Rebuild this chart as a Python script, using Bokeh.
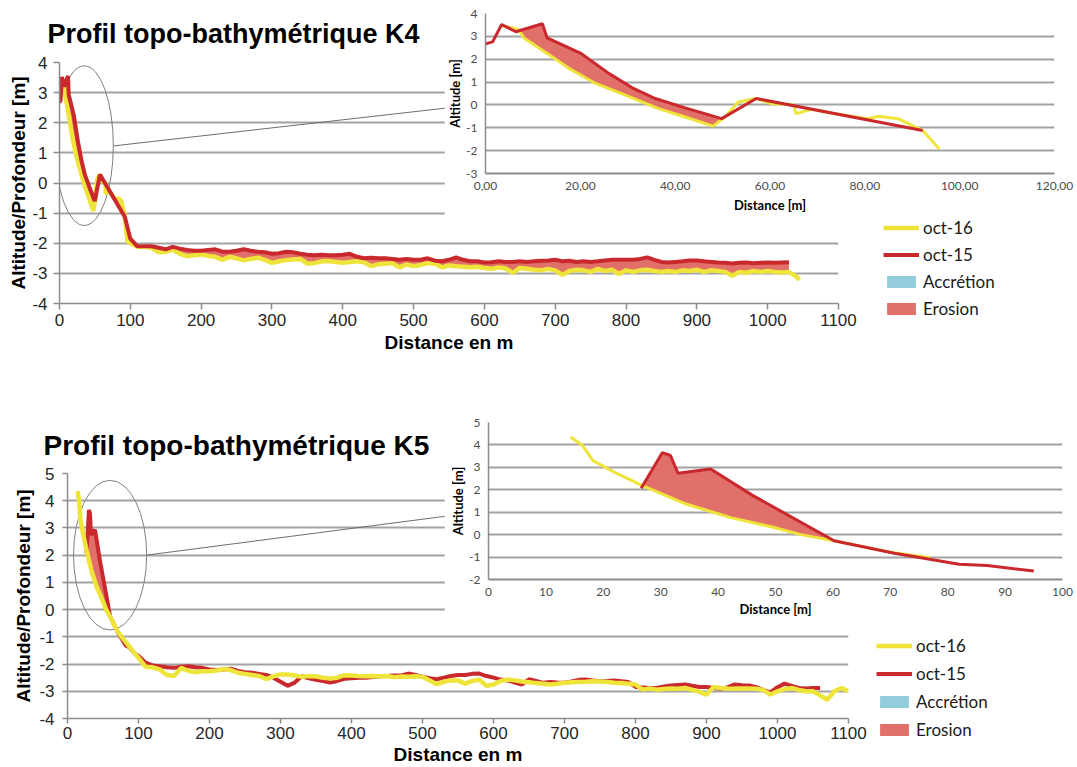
import numpy as np
from bokeh.plotting import figure
from bokeh.models import FixedTicker, Legend, LegendItem
from bokeh.embed import file_html
from bokeh.resources import INLINE

# ---------------------------------------------------------------- data
# Profile K4, beach / upper shoreface (distance [m], altitude [m])
k4_near_x15 = [0.0, 1.5, 3.4, 6.4, 12.0, 13.0, 20.0, 26.0, 31.2, 35.8, 42.1, 49.8, 57.1, 92.2]
k4_near_z15 = [2.67, 2.76, 3.52, 3.20, 3.55, 2.93, 2.27, 1.38, 0.72, 0.28, -0.13, -0.60, 0.28, -1.12]
k4_near_x16 = [3.5, 5.0, 7.0, 8.1, 13.4, 17.6, 23.2, 29.5, 36.5, 42.1, 48.0, 50.5, 53.3, 57.1,
               60.3, 65.0, 65.5, 68.8, 74.0, 80.7, 82.8, 87.0, 92.2, 95.7]
k4_near_z16 = [3.45, 3.40, 3.30, 2.93, 2.20, 1.60, 0.94, 0.43, -0.16, -0.53, -0.93, -0.53, 0.13, 0.28,
               0.06, 0.00, -0.38, -0.19, -0.40, -0.60, -0.50, -0.60, -1.12, -1.93]
k4_erosion_span = (6.4, 49.8)

# Profile K4, offshore part (10 m spacing)
k4_off_x = list(range(100, 1040, 10))
k4_off_z15 = [
    -1.85, -2.10, -2.10, -2.10, -2.15, -2.20, -2.12, -2.18, -2.22, -2.25,
    -2.25, -2.22, -2.20, -2.28, -2.28, -2.25, -2.20, -2.25, -2.28, -2.30,
    -2.35, -2.33, -2.28, -2.30, -2.35, -2.38, -2.40, -2.38, -2.40, -2.40,
    -2.38, -2.35, -2.45, -2.50, -2.48, -2.50, -2.50, -2.52, -2.55, -2.52,
    -2.55, -2.55, -2.50, -2.58, -2.60, -2.55, -2.47, -2.55, -2.60, -2.60,
    -2.64, -2.63, -2.60, -2.62, -2.62, -2.60, -2.62, -2.60, -2.58, -2.57,
    -2.55, -2.60, -2.58, -2.62, -2.60, -2.62, -2.60, -2.57, -2.55, -2.55,
    -2.55, -2.55, -2.52, -2.47, -2.55, -2.62, -2.64, -2.62, -2.60, -2.57,
    -2.57, -2.60, -2.62, -2.64, -2.65, -2.67, -2.65, -2.64, -2.66, -2.65,
    -2.64, -2.65, -2.64, -2.63]
k4_off_z16 = [
    -2.00, -2.12, -2.12, -2.15, -2.30, -2.28, -2.22, -2.35, -2.43, -2.40,
    -2.37, -2.42, -2.45, -2.55, -2.45, -2.50, -2.57, -2.52, -2.48, -2.55,
    -2.65, -2.60, -2.56, -2.54, -2.52, -2.68, -2.66, -2.60, -2.59, -2.62,
    -2.65, -2.62, -2.60, -2.63, -2.76, -2.70, -2.68, -2.66, -2.80, -2.70,
    -2.76, -2.72, -2.66, -2.68, -2.80, -2.74, -2.76, -2.78, -2.80, -2.78,
    -2.82, -2.85, -2.80, -2.84, -2.98, -2.82, -2.85, -2.88, -2.90, -2.85,
    -2.90, -3.05, -2.92, -2.88, -2.90, -2.95, -2.85, -2.92, -2.88, -3.02,
    -2.90, -2.95, -2.90, -2.88, -2.92, -2.95, -2.92, -2.95, -2.90, -2.92,
    -2.88, -2.95, -2.90, -2.92, -2.95, -3.08, -2.95, -2.98, -2.92, -2.95,
    -2.92, -2.95, -2.97, -2.95]
k4_tail_x16 = [1040, 1045]
k4_tail_z16 = [-3.10, -3.22]

# Profile K5, beach / upper shoreface
k5_near_x15 = [26.6, 30.3, 31.7, 33.0, 38.7, 46.0, 60.2, 70.7, 82.0, 86.9, 95.0]
k5_near_z15 = [2.07, 3.66, 3.53, 2.74, 2.93, 1.75, -0.27, -0.83, -1.32, -1.38, -1.62]
k5_near_x16 = [14.3, 16.3, 18.2, 21.8, 26.8, 34.0, 38.7, 42.2, 49.1, 54.4, 60.2, 70.0, 77.0]
k5_near_z16 = [4.35, 4.00, 3.30, 2.80, 2.19, 1.40, 1.03, 0.76, 0.36, 0.00, -0.27, -0.78, -1.03]
k5_erosion_span = (26.6, 60.2)

# Profile K5, offshore part (10 m spacing)
k5_off_x15 = list(range(100, 1070, 10))
k5_off_z15 = [
    -1.70, -1.95, -2.05, -2.08, -2.12, -2.14, -2.10, -2.08, -2.12, -2.14,
    -2.20, -2.22, -2.20, -2.17, -2.25, -2.30, -2.32, -2.36, -2.40, -2.50,
    -2.65, -2.80, -2.68, -2.45, -2.52, -2.58, -2.62, -2.68, -2.62, -2.54,
    -2.52, -2.50, -2.50, -2.48, -2.45, -2.44, -2.42, -2.42, -2.35, -2.40,
    -2.46, -2.52, -2.56, -2.50, -2.44, -2.40, -2.40, -2.36, -2.35, -2.44,
    -2.50, -2.57, -2.60, -2.68, -2.75, -2.56, -2.62, -2.69, -2.66, -2.68,
    -2.69, -2.64, -2.58, -2.57, -2.60, -2.63, -2.62, -2.60, -2.63, -2.66,
    -2.84, -2.86, -2.88, -2.88, -2.82, -2.79, -2.77, -2.75, -2.80, -2.84,
    -2.84, -2.88, -2.91, -2.85, -2.75, -2.78, -2.79, -2.85, -2.95, -3.04,
    -2.85, -2.72, -2.80, -2.88, -2.90, -2.88, -2.88]
k5_off_x16 = list(range(110, 1110, 10))
k5_off_z16 = [
    -2.10, -2.12, -2.20, -2.40, -2.44, -2.14, -2.25, -2.30, -2.26, -2.26,
    -2.24, -2.18, -2.22, -2.32, -2.36, -2.40, -2.44, -2.55, -2.45, -2.38,
    -2.38, -2.42, -2.47, -2.44, -2.46, -2.50, -2.53, -2.50, -2.41, -2.42,
    -2.44, -2.45, -2.44, -2.45, -2.44, -2.48, -2.46, -2.47, -2.45, -2.47,
    -2.60, -2.74, -2.65, -2.60, -2.60, -2.72, -2.62, -2.57, -2.80, -2.75,
    -2.62, -2.57, -2.60, -2.64, -2.67, -2.70, -2.72, -2.75, -2.72, -2.69,
    -2.67, -2.66, -2.65, -2.63, -2.64, -2.66, -2.69, -2.70, -2.72, -2.75,
    -2.94, -2.90, -2.94, -2.92, -2.90, -2.91, -2.88, -2.95, -3.02, -3.12,
    -2.84, -2.88, -2.90, -2.91, -2.90, -2.90, -2.91, -2.95, -3.12, -3.00,
    -2.92, -2.88, -2.95, -3.00, -3.00, -3.15, -3.31, -3.00, -2.88, -3.00]

# Axis ticks and labels
main_x_ticks = [0, 100, 200, 300, 400, 500, 600, 700, 800, 900, 1000, 1100]
k4_y_ticks = [-4, -3, -2, -1, 0, 1, 2, 3, 4]
k5_y_ticks = [-4, -3, -2, -1, 0, 1, 2, 3, 4, 5]
k4_zoom_x_ticks = [0, 20, 40, 60, 80, 100, 120]
k4_zoom_x_labels = ["0,00", "20,00", "40,00", "60,00", "80,00", "100,00", "120,00"]
k4_zoom_y_ticks = [-3, -2, -1, 0, 1, 2, 3, 4]
k5_zoom_x_ticks = [0, 10, 20, 30, 40, 50, 60, 70, 80, 90, 100]
k5_zoom_y_ticks = [-2, -1, 0, 1, 2, 3, 4, 5]

series_labels = ["oct-16", "oct-15", "Accrétion", "Erosion"]
titles = ["Profil topo-bathymétrique K4", "Profil topo-bathymétrique K5"]

# Zoom windows marked on the overview profiles (ellipse + leader line)
k4_zoom_mark = dict(cx=35, cy=1.24, w=82, h=5.3, lx=[76, 700], ly=[1.23, 2.90])
k5_zoom_mark = dict(cx=60, cy=2.0, w=103, h=5.5, lx=[111, 700], ly=[2.0, 4.0])

# ---------------------------------------------------------------- style
YELLOW = "#EEE43A"
RED = "#C9282D"
EROSION = "#E2706A"
ACCRETION = "#93CDDD"
GRID = "#A3A3A3"
AXIS = "#8C8C8C"
MAIN_FONT = "Liberation Sans"
ZOOM_FONT = "Lato"


def place(fig, left, top):
    fig.styles = {"position": "absolute", "left": f"{left}px", "top": f"{top}px",
                  "width": f"{fig.width}px", "height": f"{fig.height}px"}


def erosion_polygon(x15, z15, x16, z16, span):
    lo, hi = span
    upper = [(x, z) for x, z in zip(x15, z15) if lo <= x <= hi]
    lower = [(x, z) for x, z in zip(x16, z16) if lo <= x <= hi][::-1]
    pts = upper + lower
    return [q[0] for q in pts], [q[1] for q in pts]


def common_grid(xa, za, xb, zb):
    a = dict(zip(xa, za))
    b = dict(zip(xb, zb))
    xs = sorted(set(a) & set(b))
    return xs, np.array([a[x] for x in xs]), np.array([b[x] for x in xs])


def style_common(p, x_ticks, y_ticks, font, size, color):
    p.xaxis.ticker = FixedTicker(ticks=x_ticks)
    p.yaxis.ticker = FixedTicker(ticks=y_ticks)
    p.ygrid.ticker = FixedTicker(ticks=y_ticks)
    p.xgrid.visible = False
    p.ygrid.grid_line_color = GRID
    p.ygrid.grid_line_width = 2
    p.yaxis.major_label_overrides = {t: str(t) for t in y_ticks}
    for ax in (p.xaxis[0], p.yaxis[0]):
        ax.axis_line_color = AXIS
        ax.axis_line_width = 1.5
        ax.major_tick_line_color = AXIS
        ax.major_tick_line_width = 1.5
        ax.major_tick_in = 0
        ax.minor_tick_line_color = None
        ax.major_label_text_font = font
        ax.major_label_text_font_size = size
        ax.major_label_text_color = color
        ax.axis_label_text_font = font
        ax.axis_label_text_font_style = "bold"
        ax.axis_label_text_color = "#000000"
    p.outline_line_color = None
    p.background_fill_color = "white"
    p.border_fill_color = "white"


def overview(title, title_size, title_offset, title_standoff, width, height, borders,
             y_ticks, poly, mark, tick_out, x_standoff, x_label_standoff,
             y_standoff, y_label_standoff):
    p = figure(width=width, height=height, x_range=(0, 1100), y_range=(y_ticks[0], y_ticks[-1]),
               output_backend="svg", toolbar_location=None, title=title,
               min_border_left=borders[0], min_border_right=borders[1],
               min_border_top=borders[2], min_border_bottom=borders[3])
    style_common(p, main_x_ticks, y_ticks, MAIN_FONT, "17px", "#262626")
    p.xaxis.major_label_overrides = {t: str(t) for t in main_x_ticks}
    p.xaxis.axis_label = "Distance en m"
    p.yaxis.axis_label = "Altitude/Profondeur [m]"
    for ax in (p.xaxis[0], p.yaxis[0]):
        ax.axis_label_text_font_size = "19px"
        ax.major_tick_out = tick_out
    p.xaxis.major_label_standoff = x_standoff
    p.xaxis.axis_label_standoff = x_label_standoff
    p.yaxis.major_label_standoff = y_standoff
    p.yaxis.axis_label_standoff = y_label_standoff
    p.title.text_font = MAIN_FONT
    p.title.text_font_size = title_size
    p.title.text_font_style = "bold"
    p.title.text_color = "#000000"
    p.title.align = "left"
    p.title.offset = title_offset
    p.title.standoff = title_standoff

    p.patch(poly[0], poly[1], fill_color=EROSION, line_color=None)
    p.ellipse(x=[mark["cx"]], y=[mark["cy"]], width=[mark["w"]], height=[mark["h"]],
              fill_alpha=0, line_color="#808080", line_width=1)
    p.line(mark["lx"], mark["ly"], line_color="#6E6E6E", line_width=1)
    return p


def key_panel(x15, z15, x16, z16, gx, g15, g16, spacing):
    # Stand-alone key placed to the right of an overview profile. Its renderers
    # carry the profile data but stay hidden; only the legend is shown.
    p = figure(width=190, height=110, x_range=(0, 1), y_range=(0, 1),
               output_backend="svg", toolbar_location=None, min_border=0,
               x_axis_location=None, y_axis_location=None)
    p.grid.visible = False
    p.outline_line_color = None
    p.background_fill_alpha = 0
    p.border_fill_alpha = 0
    r16 = p.line(x16, z16, line_color=YELLOW, line_width=4.5, visible=False)
    r15 = p.line(x15, z15, line_color=RED, line_width=4, visible=False)
    r_acc = p.varea(x=gx, y1=g15, y2=np.maximum(g15, g16), fill_color=ACCRETION, visible=False)
    r_ero = p.varea(x=gx, y1=g16, y2=np.maximum(g15, g16), fill_color=EROSION, visible=False)
    items = [LegendItem(label=lab, renderers=[r])
             for lab, r in zip(series_labels, [r16, r15, r_acc, r_ero])]
    leg = Legend(items=items, location="top_left", orientation="vertical", padding=0, margin=0,
                 spacing=spacing, glyph_width=36, glyph_height=15, label_standoff=4,
                 label_text_font=ZOOM_FONT, label_text_font_size="17px",
                 label_text_color="#1A1A1A", border_line_alpha=0, background_fill_alpha=0,
                 inactive_fill_alpha=0)
    p.add_layout(leg)
    return p


def zoom_panel(width, height, borders, x_end, y_ticks, x_ticks, x_labels,
               x15, z15, x16, z16, poly, x_label_standoff):
    p = figure(width=width, height=height, x_range=(0, x_end), y_range=(y_ticks[0], y_ticks[-1]),
               output_backend="svg", toolbar_location=None,
               min_border_left=borders[0], min_border_right=borders[1],
               min_border_top=borders[2], min_border_bottom=borders[3])
    style_common(p, x_ticks, y_ticks, ZOOM_FONT, "12px", "#4D4D4D")
    p.xaxis.major_label_overrides = dict(zip(x_ticks, x_labels))
    p.xaxis.axis_label = "Distance [m]"
    p.yaxis.axis_label = "Altitude [m]"
    for ax in (p.xaxis[0], p.yaxis[0]):
        ax.axis_label_text_font_size = "13px"
        ax.major_tick_out = 0
        ax.major_tick_line_color = None
        ax.major_label_standoff = 8
    p.xaxis.axis_label_standoff = x_label_standoff
    p.yaxis.axis_label_standoff = 0
    p.xaxis.axis_line_width = 2
    p.patch(poly[0], poly[1], fill_color=EROSION, line_color=None)
    p.line(x16, z16, line_color=YELLOW, line_width=3)
    p.line(x15, z15, line_color=RED, line_width=3)
    return p


# ---------------------------------------------------------------- K4 overview
k4_poly = erosion_polygon(k4_near_x15, k4_near_z15, k4_near_x16, k4_near_z16, k4_erosion_span)
k4_x15 = k4_near_x15 + k4_off_x
k4_z15 = k4_near_z15 + k4_off_z15
k4_x16 = k4_near_x16 + k4_off_x + k4_tail_x16
k4_z16 = k4_near_z16 + k4_off_z16 + k4_tail_z16

p4 = overview(titles[0], "27px", -12, 28, 1077, 360, (59, 239, 62, 57), k4_y_ticks,
              k4_poly, k4_zoom_mark, 6, 4, 3, 6, 0)
gx4, g15, g16 = common_grid(k4_off_x, k4_off_z15, k4_off_x, k4_off_z16)
p4.varea(x=gx4, y1=g16, y2=np.maximum(g15, g16), fill_color=EROSION)
p4.line(k4_x16, k4_z16, line_color=YELLOW, line_width=4.5)
p4.line(k4_x15, k4_z15, line_color=RED, line_width=4)
place(p4, 0, 0)

# ---------------------------------------------------------------- K5 overview
k5_poly = erosion_polygon(k5_near_x15, k5_near_z15, k5_near_x16, k5_near_z16, k5_erosion_span)
k5_x15 = k5_near_x15 + k5_off_x15
k5_z15 = k5_near_z15 + k5_off_z15
k5_x16 = k5_near_x16 + k5_off_x16
k5_z16 = k5_near_z16 + k5_off_z16

p5 = overview(titles[1], "28px", -24, 26, 1077, 386, (67, 229, 92, 48), k5_y_ticks,
              k5_poly, k5_zoom_mark, 5, 3, 2, 8, 2)
gx5, h15, h16 = common_grid(k5_off_x15, k5_off_z15, k5_off_x16, k5_off_z16)
p5.line(k5_x15, k5_z15, line_color=RED, line_width=4)
p5.line(k5_x16, k5_z16, line_color=YELLOW, line_width=4.5)
place(p5, 0, 381)

# ---------------------------------------------------------------- keys
key4 = key_panel(k4_x15, k4_z15, k4_x16, k4_z16, gx4, g15, g16, 6)
place(key4, 883, 217)
key5 = key_panel(k5_x15, k5_z15, k5_x16, k5_z16, gx5, h15, h16, 7)
place(key5, 876, 635)

# ---------------------------------------------------------------- zoomed panels
z4 = zoom_panel(633, 218, (39, 23, 13, 45), 120, k4_zoom_y_ticks, k4_zoom_x_ticks,
                k4_zoom_x_labels, k4_near_x15, k4_near_z15, k4_near_x16, k4_near_z16,
                k4_poly, 4)
place(z4, 444, 0)

z5 = zoom_panel(633, 248, (44, 15, 42, 49), 100, k5_zoom_y_ticks, k5_zoom_x_ticks,
                [str(t) for t in k5_zoom_x_ticks], k5_near_x15, k5_near_z15,
                k5_near_x16, k5_near_z16, k5_poly, 2)
place(z5, 444, 380)

open("out.html", "w").write(file_html([p4, p5, key4, key5, z4, z5], INLINE))
